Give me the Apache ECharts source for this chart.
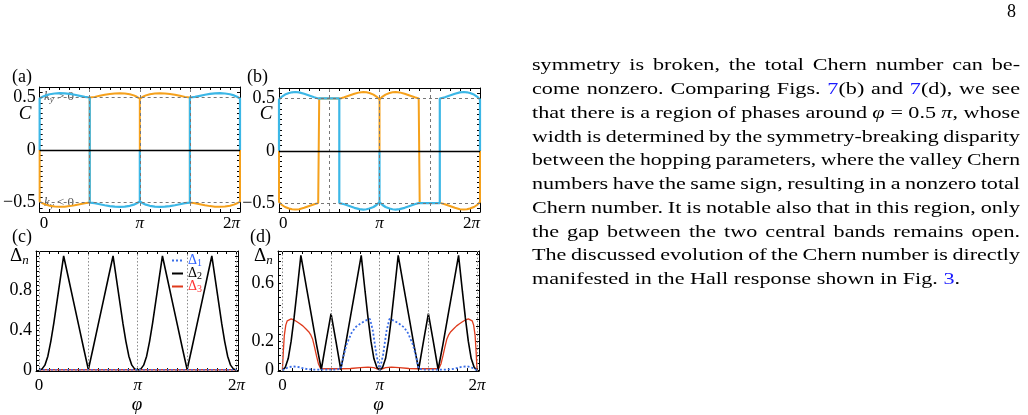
<!DOCTYPE html>
<html lang="en">
<head>
<meta charset="UTF-8" />
<title>Fig. 7 page</title>
<style>
  html, body { margin: 0; background: #fff; }
  #main { width: 1028px; height: 415px; }
</style>
</head>
<body>
<div id="main"></div>
<script src="https://cdn.jsdelivr.net/npm/echarts@6/dist/echarts.min.js"></script>
<script>
// phi is given in units of pi everywhere

// (a) valley Chern numbers, symmetric hopping
var aOrange = [[0,0],[0,-0.49],[0.03,-0.507],[0.06,-0.52],[0.1,-0.531],[0.15,-0.538],[0.2,-0.541],[0.25,-0.539],[0.3,-0.534],[0.35,-0.526],[0.4,-0.516],[0.45,-0.506],[0.5,-0.5],
  [0.5,0.5],[0.55,0.506],[0.6,0.516],[0.65,0.526],[0.7,0.534],[0.75,0.539],[0.8,0.541],[0.85,0.538],[0.9,0.531],[0.94,0.52],[0.97,0.507],[1,0.49],[1,0],
  [1,0.49],[1.03,0.507],[1.06,0.52],[1.1,0.531],[1.15,0.538],[1.2,0.541],[1.25,0.539],[1.3,0.534],[1.35,0.526],[1.4,0.516],[1.45,0.506],[1.5,0.5],
  [1.5,-0.5],[1.55,-0.506],[1.6,-0.516],[1.65,-0.526],[1.7,-0.534],[1.75,-0.539],[1.8,-0.541],[1.85,-0.538],[1.9,-0.531],[1.94,-0.52],[1.97,-0.507],[2,-0.49],[2,0]];
var aBlue = [[0,0],[0,0.49],[0.03,0.507],[0.06,0.52],[0.1,0.531],[0.15,0.538],[0.2,0.541],[0.25,0.539],[0.3,0.534],[0.35,0.526],[0.4,0.516],[0.45,0.506],[0.5,0.5],
  [0.5,-0.5],[0.55,-0.506],[0.6,-0.516],[0.65,-0.526],[0.7,-0.534],[0.75,-0.539],[0.8,-0.541],[0.85,-0.538],[0.9,-0.531],[0.94,-0.52],[0.97,-0.507],[1,-0.49],[1,0],
  [1,-0.49],[1.03,-0.507],[1.06,-0.52],[1.1,-0.531],[1.15,-0.538],[1.2,-0.541],[1.25,-0.539],[1.3,-0.534],[1.35,-0.526],[1.4,-0.516],[1.45,-0.506],[1.5,-0.5],
  [1.5,0.5],[1.55,0.506],[1.6,0.516],[1.65,0.526],[1.7,0.534],[1.75,0.539],[1.8,0.541],[1.85,0.538],[1.9,0.531],[1.94,0.52],[1.97,0.507],[2,0.49],[2,0]];

// (b) valley Chern numbers, broken symmetry
var bOrange = [[0,0],[0,-0.49],[0.03,-0.518],[0.06,-0.537],[0.1,-0.552],[0.13,-0.559],[0.16,-0.562],[0.2,-0.558],[0.25,-0.545],[0.3,-0.528],[0.35,-0.511],[0.39,-0.5],[0.4,-0.5],
  [0.4,0.5],[0.61,0.5],[0.65,0.511],[0.7,0.528],[0.75,0.545],[0.8,0.558],[0.84,0.562],[0.87,0.559],[0.9,0.552],[0.94,0.537],[0.97,0.518],[1,0.49],[1,0],
  [1,0.49],[1.03,0.518],[1.06,0.537],[1.1,0.552],[1.13,0.559],[1.16,0.562],[1.2,0.558],[1.25,0.545],[1.3,0.528],[1.35,0.511],[1.39,0.5],[1.4,0.5],
  [1.4,-0.5],[1.61,-0.5],[1.65,-0.511],[1.7,-0.528],[1.75,-0.545],[1.8,-0.558],[1.84,-0.562],[1.87,-0.559],[1.9,-0.552],[1.94,-0.537],[1.97,-0.518],[2,-0.49],[2,0]];
var bBlue = [[0,0],[0,0.49],[0.03,0.518],[0.06,0.537],[0.1,0.552],[0.13,0.559],[0.16,0.562],[0.2,0.558],[0.25,0.545],[0.3,0.528],[0.35,0.511],[0.39,0.5],[0.6,0.5],
  [0.6,-0.5],[0.61,-0.5],[0.65,-0.511],[0.7,-0.528],[0.75,-0.545],[0.8,-0.558],[0.84,-0.562],[0.87,-0.559],[0.9,-0.552],[0.94,-0.537],[0.97,-0.518],[1,-0.49],[1,0],
  [1,-0.49],[1.03,-0.518],[1.06,-0.537],[1.1,-0.552],[1.13,-0.559],[1.16,-0.562],[1.2,-0.558],[1.25,-0.545],[1.3,-0.528],[1.35,-0.511],[1.39,-0.5],[1.6,-0.5],
  [1.6,0.5],[1.61,0.5],[1.65,0.511],[1.7,0.528],[1.75,0.545],[1.8,0.558],[1.84,0.562],[1.87,0.559],[1.9,0.552],[1.94,0.537],[1.97,0.518],[2,0.49],[2,0]];

// (c) gaps, symmetric hopping
var cGap1 = [[0,0.004],[0.5,0.004],[1,0.004],[1.5,0.004],[2,0.004]];
var cGap2 = [[0,0],[0.03,0.01],[0.06,0.05],[0.09,0.14],[0.12,0.29],[0.15,0.47],[0.2,0.81],[0.25,1.15],[0.3,0.92],[0.35,0.69],[0.4,0.46],[0.45,0.23],[0.5,0.005],
  [0.55,0.23],[0.6,0.46],[0.65,0.69],[0.7,0.92],[0.75,1.15],[0.8,0.81],[0.85,0.47],[0.88,0.29],[0.91,0.14],[0.94,0.05],[0.97,0.01],[1,0],
  [1.03,0.01],[1.06,0.05],[1.09,0.14],[1.12,0.29],[1.15,0.47],[1.2,0.81],[1.25,1.15],[1.3,0.92],[1.35,0.69],[1.4,0.46],[1.45,0.23],[1.5,0.005],
  [1.55,0.23],[1.6,0.46],[1.65,0.69],[1.7,0.92],[1.75,1.15],[1.8,0.81],[1.85,0.47],[1.88,0.29],[1.91,0.14],[1.94,0.05],[1.97,0.01],[2,0]];
var cGap3 = [[0,0.003],[0.5,0.003],[1,0.003],[1.5,0.003],[2,0.003]];

// (d) gaps, broken symmetry
var dGap1 = [[0,0],[0.03,0.01],[0.06,0.02],[0.1,0.026],[0.14,0.025],[0.18,0.02],[0.22,0.012],[0.27,0.006],[0.35,0.004],[0.45,0.004],[0.55,0.005],
  [0.6,0.01],[0.625,0.09],[0.66,0.178],[0.71,0.256],[0.75,0.295],[0.8,0.32],[0.85,0.34],[0.9,0.353],[0.93,0.27],[0.965,0.11],[1,0],
  [1.035,0.11],[1.07,0.27],[1.1,0.353],[1.15,0.34],[1.2,0.32],[1.25,0.295],[1.29,0.256],[1.34,0.178],[1.375,0.09],[1.4,0.01],
  [1.45,0.005],[1.55,0.004],[1.65,0.004],[1.73,0.006],[1.78,0.012],[1.82,0.02],[1.86,0.025],[1.9,0.026],[1.94,0.02],[1.97,0.01],[2,0]];
var dGap2 = [[0,0],[0.03,0.02],[0.06,0.08],[0.09,0.2],[0.12,0.36],[0.15,0.54],[0.19,0.79],[0.25,0.56],[0.3,0.37],[0.35,0.18],[0.4,0.005],
  [0.45,0.2],[0.5,0.39],[0.55,0.2],[0.6,0.005],[0.65,0.18],[0.7,0.37],[0.75,0.56],[0.81,0.79],[0.85,0.54],[0.88,0.36],[0.91,0.2],[0.94,0.08],[0.97,0.02],[1,0],
  [1.03,0.02],[1.06,0.08],[1.09,0.2],[1.12,0.36],[1.15,0.54],[1.19,0.79],[1.25,0.56],[1.3,0.37],[1.35,0.18],[1.4,0.005],
  [1.45,0.2],[1.5,0.39],[1.55,0.2],[1.6,0.005],[1.65,0.18],[1.7,0.37],[1.75,0.56],[1.81,0.79],[1.85,0.54],[1.88,0.36],[1.91,0.2],[1.94,0.08],[1.97,0.02],[2,0]];
var dGap3 = [[0,0],[0.01,0.13],[0.02,0.24],[0.035,0.31],[0.05,0.34],[0.07,0.35],[0.09,0.353],[0.12,0.345],[0.15,0.333],[0.18,0.32],[0.21,0.305],[0.24,0.285],
  [0.27,0.265],[0.29,0.245],[0.31,0.215],[0.33,0.16],[0.35,0.1],[0.37,0.045],[0.39,0.015],[0.42,0.01],[0.5,0.01],[0.6,0.01],[0.7,0.012],[0.8,0.018],[0.88,0.022],[0.94,0.018],[0.98,0.008],[1,0],
  [1.02,0.008],[1.06,0.018],[1.12,0.022],[1.2,0.018],[1.3,0.012],[1.4,0.01],[1.5,0.01],[1.58,0.01],[1.61,0.015],[1.63,0.045],[1.65,0.1],[1.67,0.16],[1.69,0.215],
  [1.71,0.245],[1.73,0.265],[1.76,0.285],[1.79,0.305],[1.82,0.32],[1.85,0.333],[1.88,0.345],[1.91,0.353],[1.93,0.35],[1.95,0.34],[1.965,0.31],[1.98,0.24],[1.99,0.13],[2,0]];

// reference lines and tick labels
var vLinesAB = [0.5, 1, 1.5];
var hLinesAB = [-0.5, 0.5];
var vLinesCD = [0, 0.5, 1, 1.5, 2];
var xLabelVals = [0, 1, 2];
var yLabelVals = [[-0.5, 0, 0.5], [-0.5, 0, 0.5], [0, 0.4, 0.8], [0, 0.2, 0.6]];

var paraLines = [
  'symmetry is broken, the total Chern number can be-',
  'come nonzero. Comparing Figs. {l|7}(b) and {l|7}(d), we see',
  'that there is a region of phases around {m|φ} = 0.5 {m|π}, whose',
  'width is determined by the symmetry-breaking disparity',
  'between the hopping parameters, where the valley Chern',
  'numbers have the same sign, resulting in a nonzero total',
  'Chern number. It is notable also that in this region, only',
  'the gap between the two central bands remains open.',
  'The discussed evolution of the Chern number is directly',
  'manifested in the Hall response shown in Fig. {l|3}.'
];

var SERIF = 'Liberation Serif';
var ORANGE = '#f5a11c', CYAN = '#3cb7e6', BLUE = '#3a6ee8', RED = '#df3a1c';

var grids = [
  { left: 36, top: 87, width: 204, height: 125 },
  { left: 279, top: 88, width: 201, height: 124 },
  { left: 36, top: 251, width: 202, height: 122 },
  { left: 278, top: 251, width: 201, height: 122 }
];
var xRange = [[0, 2], [0, 2], [-0.03, 2.015], [-0.045, 2.02]];
var yRange = [[-0.59, 0.6], [-0.585, 0.6], [-0.01, 1.2], [-0.006, 0.82]];

function steps(a, b, d) {
  var out = [];
  for (var v = a; v <= b + 1e-9; v += d) out.push(Math.round(v * 1000) / 1000);
  return out;
}
var xTicks = steps(0, 2, 0.1);
var yTicks = [steps(-0.55, 0.55, 0.05), steps(-0.55, 0.55, 0.05), steps(0, 1.2, 0.05), steps(0, 0.8, 0.05)];

function piLabel(v) {
  if (v === 0) return '0';
  if (v === 1) return '{i|π}';
  if (v === 2) return '2{i|π}';
  return '';
}
function numLabel(v) {
  return v < 0 ? '−' + Math.abs(v) : String(v);
}

var xAxes = [], yAxes = [];
grids.forEach(function (g, i) {
  var common = {
    gridIndex: i, type: 'value', min: xRange[i][0], max: xRange[i][1],
    splitLine: { show: false },
    axisLine: { onZero: false, lineStyle: { color: '#000', width: 1 } },
    axisTick: { inside: true, length: 3, customValues: xTicks, lineStyle: { color: '#000' } }
  };
  var bottom = Object.assign({}, common, {
    position: 'bottom',
    axisLabel: {
      customValues: xLabelVals, formatter: piLabel, margin: i < 2 ? 3 : 6,
      color: '#000', fontFamily: SERIF, fontSize: 17,
      alignMinLabel: i < 2 ? 'left' : 'center', alignMaxLabel: i < 2 ? 'right' : 'center',
      rich: { i: { fontStyle: 'italic', fontFamily: SERIF, fontSize: 17, color: '#000' } }
    }
  });
  if (i >= 2) {
    bottom.name = 'φ';
    bottom.nameLocation = 'middle';
    bottom.nameGap = 19;
    bottom.nameTextStyle = { fontStyle: 'italic', fontFamily: SERIF, fontSize: 19, color: '#000' };
  }
  xAxes.push(bottom);
  xAxes.push(Object.assign({}, common, { position: 'top', axisLabel: { show: false } }));

  var ycommon = {
    gridIndex: i, type: 'value', min: yRange[i][0], max: yRange[i][1],
    splitLine: { show: false },
    axisLine: { onZero: false, lineStyle: { color: '#000', width: 1 } },
    axisTick: { inside: true, length: 3, customValues: yTicks[i], lineStyle: { color: '#000' } }
  };
  yAxes.push(Object.assign({}, ycommon, {
    position: 'left',
    axisLabel: { customValues: yLabelVals[i], formatter: numLabel, margin: 4, color: '#000', fontFamily: SERIF, fontSize: 18 }
  }));
  yAxes.push(Object.assign({}, ycommon, { position: 'right', axisLabel: { show: false } }));
});

function curve(i, name, data, color, width, type, z) {
  return {
    type: 'line', name: name, xAxisIndex: i * 2, yAxisIndex: i * 2, data: data,
    showSymbol: false, symbol: 'none', z: z, silent: true,
    lineStyle: { color: color, width: width, type: type || 'solid' },
    itemStyle: { color: color }
  };
}

var dash = { type: [3, 3], color: '#777', width: 1 };
var dot = { type: [1.5, 2], color: '#888', width: 1 };
function refSeries(i, vLines, vStyle, hLines) {
  var d = vLines.map(function (v) { return { xAxis: v, lineStyle: vStyle }; });
  (hLines || []).forEach(function (v) { d.push({ yAxis: v, lineStyle: dash }); });
  if (i < 2) d.push({ yAxis: 0, lineStyle: { type: 'solid', color: '#000', width: 1.3 } });
  return {
    type: 'line', xAxisIndex: i * 2, yAxisIndex: i * 2, data: [], z: 1, silent: true,
    markLine: { silent: true, symbol: 'none', label: { show: false }, animation: false, data: d }
  };
}

var series = [
  refSeries(0, vLinesAB, dash, hLinesAB),
  curve(0, 'a-orange', aOrange, ORANGE, 2, 'solid', 2),
  curve(0, 'a-blue', aBlue, CYAN, 2.2, 'solid', 3),
  refSeries(1, vLinesAB, dash, hLinesAB),
  curve(1, 'b-orange', bOrange, ORANGE, 2, 'solid', 2),
  curve(1, 'b-blue', bBlue, CYAN, 2.2, 'solid', 3),
  refSeries(2, vLinesCD, dot),
  curve(2, 'Δ3', cGap3, RED, 1.6, 'solid', 2),
  curve(2, 'Δ2', cGap2, '#000', 1.6, 'solid', 3),
  curve(2, 'Δ1', cGap1, BLUE, 1.6, [2, 2], 4),
  refSeries(3, vLinesCD, dot),
  curve(3, 'Δ3', dGap3, RED, 1.3, 'solid', 2),
  curve(3, 'Δ2', dGap2, '#000', 1.6, 'solid', 3),
  curve(3, 'Δ1', dGap1, BLUE, 1.8, [2, 2], 4)
];

// text of the page: panel letters, axis names, paragraph
var graphics = [];
function addText(x, y, text, opts) {
  var o = opts || {};
  graphics.push({
    type: 'text', x: x, y: y, silent: true, scaleX: o.scaleX || 1,
    style: {
      text: text, fill: o.fill || '#000', fontFamily: SERIF, fontSize: o.size || 17,
      fontStyle: o.italic ? 'italic' : 'normal',
      align: o.align || 'left', verticalAlign: 'middle', rich: o.rich
    }
  });
}
var subRich = {
  d: { fontFamily: SERIF, fontSize: 19, fill: '#000' },
  s: { fontFamily: SERIF, fontSize: 13, fontStyle: 'italic', fill: '#000', padding: [9, 0, 0, 0] }
};
addText(12, 77, '(a)', { size: 18 });
addText(247, 77, '(b)', { size: 18 });
addText(12, 237, '(c)', { size: 18 });
addText(250, 237, '(d)', { size: 18 });
addText(25, 114, 'C', { italic: true, align: 'center', size: 19 });
addText(266, 114, 'C', { italic: true, align: 'center', size: 19 });
addText(10, 256, '{d|Δ}{s|n}', { rich: subRich });
addText(254, 256, '{d|Δ}{s|n}', { rich: subRich });
var kRich = {
  k: { fontFamily: SERIF, fontSize: 13, fontStyle: 'italic', fill: '#555' },
  y: { fontFamily: SERIF, fontSize: 9, fontStyle: 'italic', fill: '#555', padding: [5, 0, 0, 0] },
  t: { fontFamily: SERIF, fontSize: 13, fill: '#555' }
};
addText(44, 97, '{k|k}{y|y}{t| > 0}', { rich: kRich });
addText(44, 203, '{k|k}{y|y}{t| < 0}', { rich: kRich });
addText(1016, 12, '8', { align: 'right', size: 18 });

// justified paragraph: the last line sets the glyph stretch, full lines spread their spaces
(function () {
  var size = 17, x0 = 532, x1 = 1020, lastEnd = 960, y0 = 66, lh = 23.75, minGap = 4.5;
  var ctx = document.createElement('canvas').getContext('2d');
  ctx.font = size + 'px "' + SERIF + '"';
  function plain(t) { return t.replace(/\{\w+\|([^}]*)\}/g, '$1'); }
  var sp = ctx.measureText(' ').width;
  var n = paraLines.length;
  var lastWords = paraLines[n - 1].split(' ');
  var lastW = 0;
  lastWords.forEach(function (t) { lastW += ctx.measureText(plain(t)).width; });
  var s = (lastEnd - x0) / (lastW + sp * (lastWords.length - 1));
  var rich = {
    l: { fontFamily: SERIF, fontSize: size, fill: '#1a1aff' },
    m: { fontFamily: SERIF, fontSize: size, fontStyle: 'italic', fill: '#000' }
  };
  paraLines.forEach(function (line, i) {
    var words = line.split(' ');
    var raw = words.map(function (t) { return ctx.measureText(plain(t)).width; });
    var sum = raw.reduce(function (a, b) { return a + b; }, 0);
    var si = s, gap;
    if (i === n - 1) {
      gap = sp * s;
    } else {
      si = Math.min(s, (x1 - x0 - minGap * (words.length - 1)) / sum);
      gap = (x1 - x0 - sum * si) / (words.length - 1);
    }
    var x = x0;
    words.forEach(function (t, k) {
      addText(x, y0 + i * lh, t, { size: size, scaleX: si, rich: rich });
      x += raw[k] * si + gap;
    });
  });
})();

var chart = echarts.init(document.getElementById('main'));
chart.setOption({
  animation: false,
  backgroundColor: '#fff',
  grid: grids.map(function (g) { return Object.assign({ containLabel: false }, g); }),
  xAxis: xAxes,
  yAxis: yAxes,
  legend: {
    data: [
      { name: 'Δ1', textStyle: { color: '#2f62ff' } },
      { name: 'Δ2', textStyle: { color: '#000' } },
      { name: 'Δ3', textStyle: { color: '#ff3030' } }
    ],
    orient: 'vertical', left: 166, top: 248, itemWidth: 11, itemHeight: 6, itemGap: -2,
    selectedMode: false,
    itemStyle: { color: 'transparent', borderColor: 'transparent', borderWidth: 0 },
    formatter: function (n) { return '{d|Δ}{s|' + n.slice(1) + '}'; },
    textStyle: {
      fontFamily: SERIF, fontSize: 14, lineHeight: 12,
      rich: {
        d: { fontFamily: SERIF, fontSize: 14, lineHeight: 12 },
        s: { fontFamily: SERIF, fontSize: 10, lineHeight: 12, padding: [5, 0, 0, 0] }
      }
    }
  },
  graphic: graphics,
  series: series
});
</script>
</body>
</html>
